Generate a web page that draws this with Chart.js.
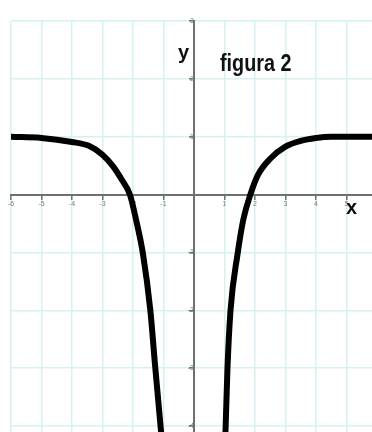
<!DOCTYPE html>
<html>
<head>
<meta charset="utf-8">
<script src="https://cdn.jsdelivr.net/npm/chart.js@4/dist/chart.umd.min.js"></script>
<style>
  html, body { margin: 0; padding: 0; background: #fff; overflow: hidden; }
  #wrap { width: 372px; height: 432px; overflow: hidden; }
</style>
</head>
<body>
<div id="wrap"><canvas id="mychart" width="372" height="440"></canvas></div>
<script>
// rama izquierda de la curva
var leftX = [-6, -5, -4, -3.43, -3, -2.67, -2.37, -2.1, -1.9, -1.67, -1.43, -1.27, -1.1, -1.07];
var leftY = [1.0, 0.98, 0.91, 0.84, 0.69, 0.5, 0.26, 0, -0.43, -1.03, -2, -2.98, -3.97, -4.15];

// rama derecha
var rightX = [1.03, 1.04, 1.1, 1.2, 1.43, 1.62, 1.85, 2.1, 2.5, 3.0, 3.5, 4.0, 4.5, 5.84];
var rightY = [-4.15, -4, -3, -2, -1.03, -0.43, 0, 0.34, 0.62, 0.83, 0.93, 0.98, 1.0, 1.0];

// rango de los ejes
var xMin = -6, xMax = 5.84;
var yMin = -4.15, yMax = 3;

function toPoints(xs, ys) {
  var pts = [];
  for (var i = 0; i < xs.length; i++) {
    pts.push({x: xs[i], y: ys[i]});
  }
  return pts;
}

function hideZero(v) {
  return v === 0 ? '' : v;
}

// textos "y", "figura 2", "x"
var labelsPlugin = {
  id: 'labels',
  afterDraw: function(chart) {
    var c = chart.ctx;
    c.save();
    c.fillStyle = '#111';
    c.textBaseline = 'alphabetic';
    c.font = 'bold 20px "Liberation Sans", Arial, sans-serif';
    c.fillText('y', 178, 59);
    c.fillText('x', 346, 214);
    c.translate(220, 71);
    c.scale(0.86, 1);
    c.font = 'bold 23px "Liberation Sans", Arial, sans-serif';
    c.fillText('figura 2', 0, 0);
    c.restore();
  }
};

var gridColor = '#d6f1f2';
var axisColor = '#6f6f6f';

var ctx = document.getElementById('mychart');
var myChart = new Chart(ctx, {
  type: 'scatter',
  data: {
    datasets: [{
      data: toPoints(leftX, leftY),
      showLine: true,
      borderColor: '#000',
      borderWidth: 6,
      pointRadius: 0,
      cubicInterpolationMode: 'monotone'
    }, {
      data: toPoints(rightX, rightY),
      showLine: true,
      borderColor: '#000',
      borderWidth: 6,
      pointRadius: 0,
      cubicInterpolationMode: 'monotone'
    }]
  },
  options: {
    responsive: false,
    animation: false,
    layout: { padding: { left: 11, top: 21, right: 0, bottom: 0 } },
    plugins: {
      legend: { display: false },
      tooltip: { enabled: false }
    },
    scales: {
      x: {
        type: 'linear',
        min: xMin,
        max: xMax,
        position: { y: 0 },
        border: { color: axisColor, width: 2 },
        grid: { color: gridColor, lineWidth: 1.5, tickLength: 4, tickColor: axisColor },
        ticks: {
          stepSize: 1,
          includeBounds: false,
          maxRotation: 0,
          padding: 1,
          color: '#7a7a7a',
          font: { size: 7 },
          callback: hideZero
        }
      },
      y: {
        type: 'linear',
        min: yMin,
        max: yMax,
        position: { x: 0 },
        border: { color: axisColor, width: 2 },
        grid: { color: gridColor, lineWidth: 1.5, tickLength: 4, tickColor: axisColor },
        ticks: {
          stepSize: 1,
          includeBounds: false,
          padding: 1,
          color: '#7a7a7a',
          font: { size: 7 },
          callback: hideZero
        }
      }
    }
  },
  plugins: [labelsPlugin]
});
</script>
</body>
</html>
